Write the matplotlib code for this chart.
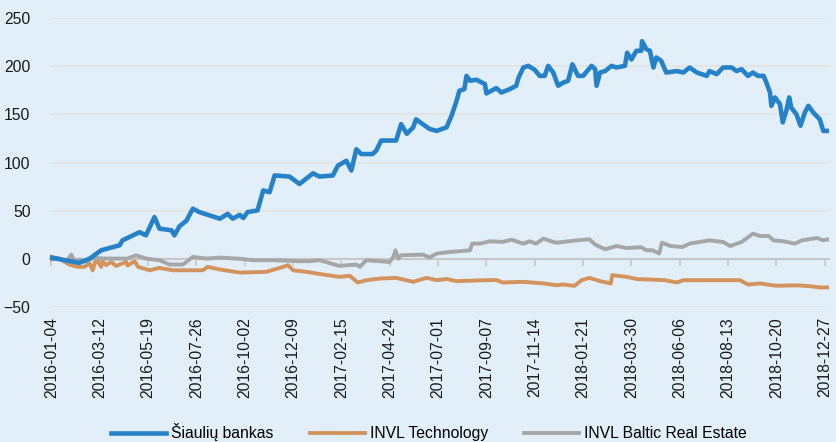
import numpy as np
import pandas as pd
import matplotlib
matplotlib.use("Agg")
import matplotlib.pyplot as plt

start_date = pd.Timestamp("2016-01-04")

# days since 2016-01-04 and index change
sb_days = [0, 39, 54, 70, 96, 100, 124, 133, 145, 152, 169, 173, 180, 190, 199, 208,
           237, 248, 255, 265, 270, 276, 290, 298, 307, 314, 335, 349, 368, 377, 396,
           403, 415, 422, 429, 436, 452, 457, 464, 485, 492, 500, 509, 513, 532, 542,
           556, 563, 570, 574, 581, 584, 589, 598, 610, 612, 626, 633, 645, 654, 657,
           664, 671, 680, 687, 694, 699, 706, 713, 720, 727, 733, 741, 748, 760, 765,
           767, 772, 779, 788, 795, 807, 810, 816, 823, 830, 831, 837, 842, 847, 851,
           858, 865, 880, 889, 898, 908, 922, 926, 936, 945, 957, 964, 971, 980, 987,
           994, 1002, 1006, 1011, 1013, 1018, 1025, 1029, 1034, 1038, 1041, 1048, 1054,
           1060, 1065, 1072, 1081, 1086, 1093]
sb_vals = [1.7, -3.8, 0.7, 9.3, 14.5, 19.6, 28, 24.8, 43.7, 31.7, 30, 24.8, 34, 40, 52.4, 48.9,
           42, 47, 42, 46, 42.7, 48.9, 50.6, 71.3, 69.5, 86.8, 85.7, 78, 89, 85.7, 86.8,
           97, 102, 92, 114, 109, 109, 112.6, 123, 123, 140, 130, 136.7, 145, 135, 133,
           136.7, 148.8, 164, 174.6, 176.3, 190, 185, 186, 181.5, 171.8, 177.4, 172.8, 176.3, 179.8, 187.7,
           198.7, 200.4, 196.3, 190, 190, 200.4, 193.5, 179.8, 183, 185, 202, 190, 190, 200.4, 197,
           179.8, 193.5, 195, 200.4, 198.7, 200.4, 214, 207, 216, 216, 226, 217.7, 216, 198.7, 209,
           205.6, 193.5, 195, 193.5, 198.7, 193.5, 190, 195, 191.8, 198.7, 198.7, 195, 197, 190, 193.5,
           190, 190, 183, 172.8, 159, 167.7, 160.8, 141.8, 154, 167.7, 157, 150.5, 138.4,
           152, 159, 152, 145, 133, 133]

tech_days = [0, 11, 25, 37, 46, 54, 58, 63, 70, 72, 77, 84, 91, 105, 107, 117, 122, 138,
             152, 171, 213, 220, 237, 265, 302, 326, 333, 340, 359, 382, 405, 420, 431,
             443, 462, 485, 509, 528, 542, 556, 570, 598, 626, 635, 664, 692, 711, 720,
             736, 746, 757, 772, 787, 789, 809, 825, 842, 863, 880, 889, 936, 969, 980,
             997, 1020, 1048, 1067, 1081, 1093]
tech_vals = [2.4, 0.7, -5.5, -7.9, -7.9, -4.5, -11.4, 0.7, -7.9, -2, -6.2, -2.8, -6.9, -2.8, -6.5, -2, -7.9, -11.4,
             -9, -11.4, -11.4, -7.9, -10.6, -13.8, -13.1, -7.9, -6.2, -11.4, -13.1, -15.8, -18.2, -17.2, -24.1,
             -21.7, -20, -19.3, -23.4, -19.3, -21.7, -20.5, -22.7, -22, -21.5, -24.1, -23.4, -25.1, -26.9, -26.2,
             -27.5, -21.7, -19.3, -22.7, -25.1, -16.5, -18.2, -20.7, -21, -21.7, -24.1, -21.7, -21.7, -21.7, -26.2,
             -25.1, -27.5, -27, -27.9, -29.2, -29.2]

bre_days = [0, 11, 21, 28, 32, 42, 49, 58, 77, 107, 119, 133, 152, 166, 185, 199, 218,
            237, 265, 283, 312, 349, 363, 377, 387, 405, 429, 434, 443, 476, 481, 484,
            488, 492, 523, 532, 542, 560, 589, 592, 603, 617, 635, 647, 664, 673, 682,
            692, 706, 711, 739, 757, 765, 779, 795, 809, 830, 837, 846, 855, 859, 871,
            888, 898, 926, 945, 955, 971, 987, 997, 1009, 1016, 1030, 1046, 1056, 1077,
            1086, 1093]
bre_vals = [-0.3, 0.7, -2.8, 4.8, -1, -0.5, -2.8, 1.4, 0.7, 0.7, 4.1, 0.7, -1, -5.5, -5.5, 2.4, 0.7,
            1.7, 0.5, -1, -1, -2, -2, -1, -3, -6.9, -5.5, -7.9, -1, -2.8, 2.4, 9.3,
            0.7, 4.1, 4.8, 1.7, 5.9, 7.5, 9.3, 16.2, 16.2, 18.6, 18, 20.3, 16.2, 18.6, 16.2,
            21.4, 17.9, 17.2, 19.6, 20.7, 15.2, 10.3, 13.7, 11.7, 12.4, 9.3, 9.3, 5.9, 17.2, 13.7,
            12.7, 16.2, 19.6, 17.9, 13.7, 17.9, 26.5, 24.1, 24.1, 19.6, 18.6, 16.2, 19.6, 22,
            19.6, 20.7]

series_names = ["Šiaulių bankas", "INVL Technology", "INVL Baltic Real Estate"]
series_colors = ["#2682C8", "#D4935D", "#A6A6A6"]

tick_days = np.arange(0, 1089, 68)
tick_labels = [(start_date + pd.Timedelta(days=int(d))).strftime("%Y-%m-%d") for d in tick_days]

bg = "#E2EFF9"
plt.rcParams["font.family"] = ["Liberation Sans", "DejaVu Sans"]
plt.rcParams["font.size"] = 11.3

fig = plt.figure(figsize=(8.36, 4.42), dpi=100, facecolor=bg)
ax = fig.add_axes([0.0598, 0.3043, 0.9318, 0.655])
ax.set_facecolor(bg)

ax.plot(sb_days, sb_vals, color=series_colors[0], lw=3.3, label=series_names[0], zorder=4)
ax.plot(tech_days, tech_vals, color=series_colors[1], lw=2.8, label=series_names[1], zorder=3)
ax.plot(bre_days, bre_vals, color=series_colors[2], lw=2.8, label=series_names[2], zorder=3)

ax.set_ylim(-50, 250)
ax.set_yticks(np.arange(-50, 251, 50))
ax.set_xlim(-2, 1094)
ax.yaxis.grid(True, color="#E4E4E4", lw=1.5)
ax.set_axisbelow(True)
for s in ["top", "right", "left"]:
    ax.spines[s].set_visible(False)
ax.spines["bottom"].set_position(("data", 0))
ax.spines["bottom"].set_color("#C8C8C8")
ax.spines["bottom"].set_linewidth(1.5)
ax.spines["bottom"].set_zorder(2)
ax.set_xticks(tick_days)
ax.tick_params(axis="x", length=5, width=1.2, color="#C8C8C8", labelbottom=False)
ax.tick_params(axis="y", length=0, pad=14, labelcolor="#1a1a1a")

sec = ax.secondary_xaxis("bottom")
sec.set_xticks(tick_days, labels=tick_labels, rotation=90)
sec.tick_params(length=0, pad=7, labelcolor="#1a1a1a")
sec.spines["bottom"].set_visible(False)

fig.legend(loc="center", bbox_to_anchor=(0.513, 0.022), ncol=3, frameon=False,
           handlelength=3.5, handletextpad=0.32, columnspacing=2.3)

fig.savefig("out.png", dpi=100, facecolor=bg)
